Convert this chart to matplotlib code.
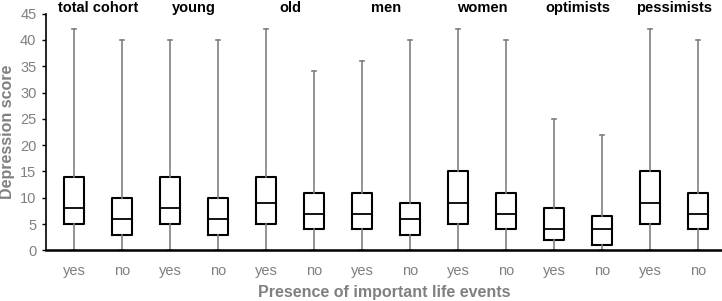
import matplotlib
matplotlib.use("Agg")
import matplotlib.pyplot as plt

plt.rcParams["font.family"] = ["Liberation Sans", "DejaVu Sans"]

groups = ["total cohort", "young", "old", "men", "women", "optimists", "pessimists"]
tick_labels = ["yes", "no"] * 7

# per box: whisker low, q1, median, q3, whisker high
whisker_low = [0, 0, 0, 0, 0, 0, 0, 0, 0, 0, 0, 0, 0, 0]
q1 = [5, 3, 5, 3, 5, 4, 4, 3, 5, 4, 2, 1, 5, 4]
median = [8, 6, 8, 6, 9, 7, 7, 6, 9, 7, 4, 4, 9, 7]
q3 = [14, 10, 14, 10, 14, 11, 11, 9, 15, 11, 8, 6.5, 15, 11]
whisker_high = [42, 40, 40, 40, 42, 34, 36, 40, 42, 40, 25, 22, 42, 40]

gray = "#808080"

fig = plt.figure(figsize=(7.22, 3.01), dpi=100)
ax = fig.add_axes([0.064, 0.168, 0.936, 0.787])

stats = []
for i in range(len(q1)):
    stats.append({
        "whislo": whisker_low[i], "q1": q1[i], "med": median[i],
        "q3": q3[i], "whishi": whisker_high[i], "fliers": [],
    })

positions = list(range(len(stats)))
ax.bxp(
    stats, positions=positions, widths=0.4, showfliers=False,
    boxprops=dict(color="black", linewidth=1.5),
    medianprops=dict(color="black", linewidth=1.3),
    whiskerprops=dict(color=gray, linewidth=1.2),
    capprops=dict(color=gray, linewidth=1.2),
    capwidths=0.08,
)

ax.set_xlim(-0.58, 13.5)
ax.set_ylim(0, 45)
ax.set_yticks(range(0, 46, 5))
ax.set_xticks(positions)
ax.set_xticklabels(tick_labels)

ax.tick_params(axis="y", labelcolor=gray, color="black", labelsize=10.5,
               length=3, width=1, direction="out", pad=4)
ax.tick_params(axis="x", labelcolor=gray, labelsize=10.5, length=0, pad=10)

for side in ["top", "right"]:
    ax.spines[side].set_visible(False)
ax.spines["left"].set_color("black")
ax.spines["left"].set_linewidth(1.2)
ax.spines["bottom"].set_color("black")
ax.spines["bottom"].set_linewidth(1.8)

ax.set_ylabel("Depression score", color=gray, fontsize=11.5, fontweight="bold", labelpad=4)
ax.set_xlabel("Presence of important life events", color=gray, fontsize=11.5,
              fontweight="bold", labelpad=5)

for g, name in enumerate(groups):
    ax.text(2 * g + 0.5, 46.0, name, ha="center", va="center",
            fontsize=10.5, fontweight="bold", color="black", clip_on=False)

fig.savefig("out.png", dpi=100)
